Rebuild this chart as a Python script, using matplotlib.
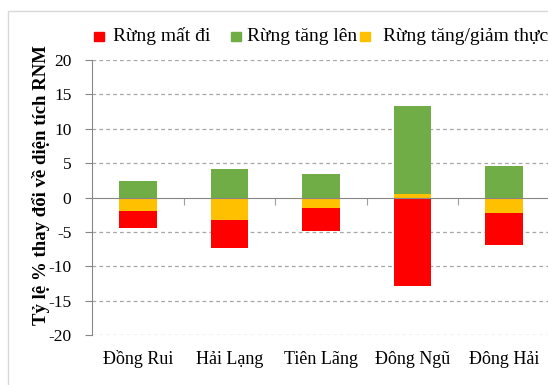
import matplotlib.pyplot as plt
from matplotlib.patches import Rectangle
import numpy as np

plt.rcParams['font.family'] = ['Liberation Serif', 'DejaVu Serif']
plt.rcParams['axes.unicode_minus'] = False

# Số liệu theo từng khu vực (% diện tích RNM)
sites = ["Đồng Rui", "Hải Lạng", "Tiên Lãng", "Đông Ngũ", "Đông Hải"]
gain = [2.4, 4.1, 3.4, 13.3, 4.6]       # rừng tăng lên
loss = [4.4, 7.4, 4.9, 12.8, 6.9]       # rừng mất đi
net = [-2.0, -3.3, -1.5, 0.5, -2.3]     # tăng/giảm thực
series = ["Rừng mất đi", "Rừng tăng lên", "Rừng tăng/giảm thực"]
colors = ["#FF0000", "#70AD47", "#FFC000"]
yticks = [-20, -15, -10, -5, 0, 5, 10, 15, 20]

gain = np.array(gain)
loss = np.array(loss)
net = np.array(net)

W, H = 548, 385
fig = plt.figure(figsize=(W / 100, H / 100), dpi=100)
ax = fig.add_axes([92.3 / W, 1 - 335 / H, (550 - 92.3) / W, 275 / H])

x = np.arange(len(sites)) + 0.5
w = 0.41
pos = np.maximum(net, 0)
neg = np.minimum(net, 0)

# thực: từ 0 đến giá trị net; tăng: phần trên; mất: phần dưới
ax.bar(x, net, w, color=colors[2], zorder=3)
ax.bar(x, gain - pos, w, bottom=pos, color=colors[1], zorder=3)
ax.bar(x, -loss - neg, w, bottom=neg, color=colors[0], zorder=3)

ax.set_xlim(0, len(sites))
ax.set_ylim(-20, 20)
ax.set_yticks(yticks)
ax.tick_params(axis='y', direction='out', length=5, color='#868686',
               labelsize=12.5, pad=10)
for yv in yticks:
    if yv != 0:
        ax.axhline(yv, color='#A6A6A6', lw=0.9, ls=(0, (3, 2.5)), zorder=1)

for s in ['top', 'right']:
    ax.spines[s].set_visible(False)
ax.spines['left'].set_color('#868686')
ax.spines['bottom'].set_position(('data', 0))
ax.spines['bottom'].set_color('#868686')
ax.spines['bottom'].set_zorder(4)
ax.set_xticks(np.arange(1, len(sites)))
ax.set_xticklabels([])
ax.tick_params(axis='x', direction='out', length=5, color='#A0A0A0')

for xi, name in zip(x, sites):
    ax.text(xi, -29 / 275, name, transform=ax.get_xaxis_transform(),
            ha='center', va='baseline', fontsize=13)

ax.set_ylabel("Tỷ lệ % thay đổi về diện tích RNM", fontsize=13.5,
              fontweight='bold', va='center')
ax.yaxis.set_label_coords((41 - 92.3) / 457.7, (335 - 185) / 275)

# khung ngoài của biểu đồ
fig.patches.append(Rectangle((8 / W, -0.1), 1.2, 1 - 11 / H + 0.1,
                             transform=fig.transFigure, fill=False,
                             edgecolor='#D9D9D9', lw=1))

# chú giải
leg_sq = [94, 231, 360]
leg_tx = [113, 247, 383]
for sx, tx, lab, col in zip(leg_sq, leg_tx, series, colors):
    fig.patches.append(Rectangle((sx / W, 1 - 41 / H), 10 / W, 9 / H,
                                 transform=fig.transFigure, color=col))
    fig.text(tx / W, 1 - 41 / H, lab, fontsize=14, ha='left',
             va='baseline')

fig.savefig("out.png", dpi=100)
